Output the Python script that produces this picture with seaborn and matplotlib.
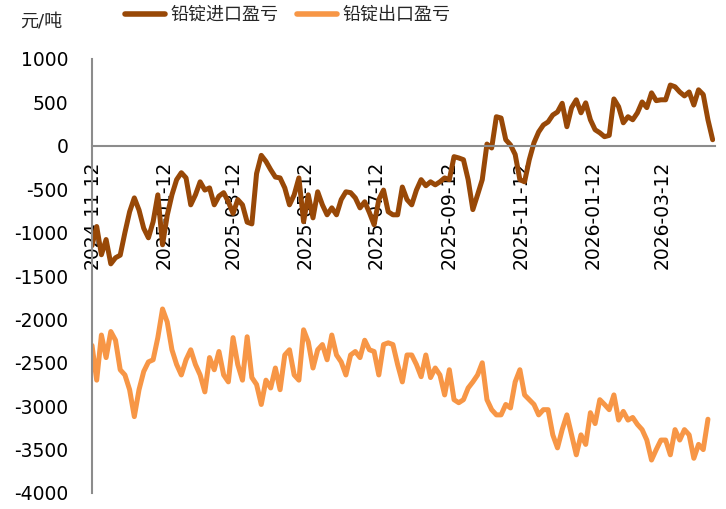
import numpy as np
import pandas as pd
import matplotlib
matplotlib.use("Agg")
import matplotlib.pyplot as plt
import matplotlib.dates as mdates
import seaborn as sns

# ---- data (yuan/ton), sampled every 4 days from 2024-11-12 ----
start_date = "2024-11-12"
n_points = 133
import_pl = [
    -1150, -930, -1255, -1080, -1360, -1290, -1260, -1000, -760, -600,
    -740, -950, -1060, -875, -565, -1140, -800, -565, -390, -310,
    -370, -680, -565, -415, -510, -485, -680, -580, -540, -645,
    -780, -620, -680, -880, -900, -320, -110, -180, -275, -360,
    -370, -485, -680, -565, -370, -875, -565, -830, -530, -680,
    -795, -715, -795, -620, -530, -540, -600, -715, -645, -770,
    -910, -620, -510, -760, -795, -795, -475, -620, -680, -510,
    -390, -460, -415, -450, -415, -370, -390, -125, -140, -160,
    -390, -735, -565, -390, 20, -25, 335, 320, 70, 10,
    -100, -390, -415, -160, 35, 160, 240, 275, 355, 390,
    490, 220, 440, 530, 380, 495, 300, 185, 150, 105,
    120, 540, 450, 265, 335, 300, 380, 505, 440, 610,
    520, 530, 530, 700, 680, 620, 575, 620, 470, 645,
    590, 300, 70,
]
export_pl = [
    -2300, -2700, -2180, -2440, -2140, -2240, -2580, -2640, -2810, -3120,
    -2810, -2600, -2490, -2465, -2210, -1880, -2030, -2350, -2520, -2640,
    -2465, -2350, -2520, -2640, -2835, -2440, -2580, -2370, -2640, -2720,
    -2210, -2520, -2700, -2200, -2670, -2750, -2980, -2700, -2790, -2560,
    -2810, -2410, -2350, -2640, -2700, -2120, -2260, -2560, -2350, -2290,
    -2465, -2180, -2410, -2490, -2640, -2410, -2370, -2440, -2240, -2350,
    -2370, -2640, -2290, -2270, -2290, -2520, -2720, -2410, -2410, -2520,
    -2660, -2410, -2670, -2560, -2640, -2870, -2580, -2925, -2960, -2925,
    -2790, -2720, -2640, -2500, -2925, -3040, -3100, -3100, -2980, -3020,
    -2720, -2580, -2870, -2925, -2980, -3100, -3040, -3040, -3330, -3480,
    -3270, -3100, -3330, -3560, -3330, -3440, -3075, -3200, -2925, -2980,
    -3040, -2870, -3160, -3060, -3160, -3130, -3210, -3270, -3390, -3620,
    -3500, -3390, -3390, -3560, -3270, -3390, -3270, -3330, -3600, -3440,
    -3500, -3150, np.nan,
]
series_names = ["铅锭进口盈亏", "铅锭出口盈亏"]
series_colors = ["#984807", "#F79646"]
tick_dates = ["2024-11-12", "2025-01-12", "2025-03-12", "2025-05-12", "2025-07-12",
              "2025-09-12", "2025-11-12", "2026-01-12", "2026-03-12"]
y_ticks = list(range(-4000, 1001, 500))
unit_label = "元/吨"

dates = pd.date_range(start_date, periods=n_points, freq="4D")
df = pd.DataFrame({"date": dates, series_names[0]: import_pl, series_names[1]: export_pl})
long_df = df.melt(id_vars="date", var_name="series", value_name="value")

sns.set_style("white")
plt.rcParams["font.family"] = ["DejaVu Sans", "Noto Sans CJK SC"]
plt.rcParams["axes.unicode_minus"] = False

fig = plt.figure(figsize=(7.26, 5.09), dpi=100)
ax = fig.add_axes([92 / 726, 1 - 493 / 509, (715 - 92) / 726, (493 - 59) / 509])

sns.lineplot(data=long_df, x="date", y="value", hue="series", hue_order=series_names,
             palette=series_colors, linewidth=3.6, ax=ax, legend=False)

ax.set_xlim(pd.Timestamp(start_date), pd.Timestamp(start_date) + pd.Timedelta(days=530))
ax.set_ylim(-4000, 1000)
ax.set_yticks(y_ticks)
ax.set_xticks(pd.to_datetime(tick_dates))
ax.xaxis.set_major_formatter(mdates.DateFormatter("%Y-%m-%d"))
ax.set_xlabel("")
ax.set_ylabel("")

for s in ["top", "right"]:
    ax.spines[s].set_visible(False)
ax.spines["bottom"].set_position(("data", 0))
for s in ["left", "bottom"]:
    ax.spines[s].set_color("#8c8c8c")
    ax.spines[s].set_linewidth(1.5)

ax.tick_params(axis="y", direction="in", length=5, width=1.2, color="#8c8c8c",
               labelsize=13.5, pad=17, labelcolor="black")
ax.tick_params(axis="x", direction="in", length=5, width=1.2, color="#8c8c8c",
               labelsize=13.5, pad=11, labelrotation=90, labelcolor="black")
for lab in ax.get_xticklabels():
    lab.set_verticalalignment("top")

fig.text(20 / 726, 1 - 22 / 509, unit_label, fontsize=13, va="center", ha="left")

handles = [plt.Line2D([], [], color=c, linewidth=4) for c in series_colors]
fig.legend(handles, series_names, loc="center", bbox_to_anchor=(0.396, 1 - 15 / 509),
           ncol=2, frameon=False, fontsize=13, handlelength=2.2, handletextpad=0.3,
           columnspacing=1.05, borderaxespad=0)

fig.savefig("out.png", dpi=100)
